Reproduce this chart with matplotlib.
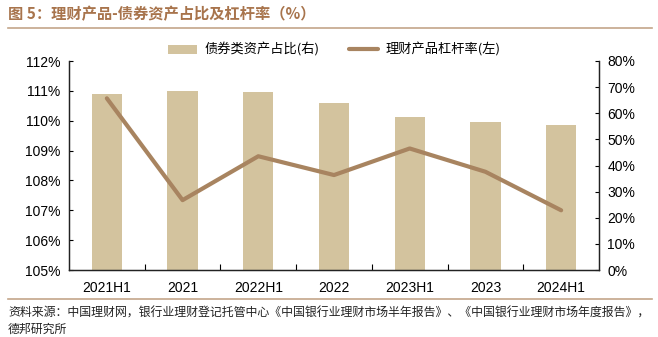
import matplotlib

matplotlib.use("Agg")
import matplotlib.pyplot as plt
from matplotlib.ticker import FuncFormatter, MultipleLocator

plt.rcParams["font.family"] = ["Liberation Sans", "Noto Sans CJK SC"]
plt.rcParams["axes.unicode_minus"] = False

categories = ["2021H1", "2021", "2022H1", "2022", "2023H1", "2023", "2024H1"]
bond_share = [67.4, 68.6, 68.2, 63.9, 58.4, 56.7, 55.6]
leverage = [110.75, 107.34, 108.81, 108.18, 109.07, 108.29, 107.0]

bar_color = "#D3C39E"
line_color = "#A88460"
title_color = "#A8744C"
rule_color = "#C4A68A"
cjk = ["Noto Sans CJK SC", "DejaVu Sans"]

fig = plt.figure(figsize=(6.58, 3.37), dpi=100)
ax = fig.add_axes([69 / 658, 1 - 270 / 337, 530 / 658, 209 / 337])
ax2 = ax.twinx()

x = list(range(len(categories)))
bars = ax2.bar(x, bond_share, width=0.4, color=bar_color, zorder=1)
ax.set_zorder(ax2.get_zorder() + 1)
ax.patch.set_visible(False)
(line,) = ax.plot(x, leverage, color=line_color, lw=3, solid_capstyle="round")

ax.set_xlim(-0.5, len(categories) - 0.5)
ax.set_ylim(105, 112)
ax2.set_ylim(0, 80)
ax.yaxis.set_major_locator(MultipleLocator(1))
ax2.yaxis.set_major_locator(MultipleLocator(10))
ax.yaxis.set_major_formatter(FuncFormatter(lambda v, _: f"{v:.0f}%"))
ax2.yaxis.set_major_formatter(FuncFormatter(lambda v, _: f"{v:.0f}%"))

ax.set_xticks(x)
ax.set_xticklabels(categories)
ax.set_xticks([i + 0.5 for i in x[:-1]], minor=True)
ax.tick_params(axis="x", which="major", length=0, labelsize=10, pad=8)
ax.tick_params(axis="x", which="minor", direction="in", length=4, width=0.8)
ax.tick_params(axis="y", direction="in", length=3, labelsize=10, pad=6)
ax2.tick_params(axis="y", direction="in", length=3, labelsize=10, pad=6)

for a in (ax, ax2):
    a.spines["top"].set_visible(False)
    for s in ("left", "right", "bottom"):
        a.spines[s].set_color("#222222")
        a.spines[s].set_linewidth(0.9)

fig.legend(
    [bars, line],
    ["债券类资产占比(右)", "理财产品杠杆率(左)"],
    loc="center",
    bbox_to_anchor=(334 / 658, 1 - 50 / 337),
    ncol=2,
    frameon=False,
    handlelength=2.2,
    handletextpad=0.6,
    columnspacing=2.2,
    prop={"family": cjk, "size": 9.5},
)

fig.text(8 / 658, 1 - 14 / 337, "图 5：理财产品-债券资产占比及杠杆率（%）",
         color=title_color, fontsize=11, fontweight="bold", va="center", family=cjk)
fig.add_artist(plt.Line2D([8 / 658, 652 / 658], [1 - 28 / 337] * 2, color=rule_color, lw=1.2))
fig.add_artist(plt.Line2D([8 / 658, 652 / 658], [1 - 299 / 337] * 2, color=rule_color, lw=1.2))
fig.text(8 / 658, 1 - 313 / 337,
         "资料来源：中国理财网，银行业理财登记托管中心《中国银行业理财市场半年报告》、《中国银行业理财市场年度报告》，",
         fontsize=8.6, va="center", color="#222222", family=cjk)
fig.text(8 / 658, 1 - 329 / 337, "德邦研究所",
         fontsize=8.6, va="center", color="#222222", family=cjk)

fig.savefig("out.png", dpi=100)
